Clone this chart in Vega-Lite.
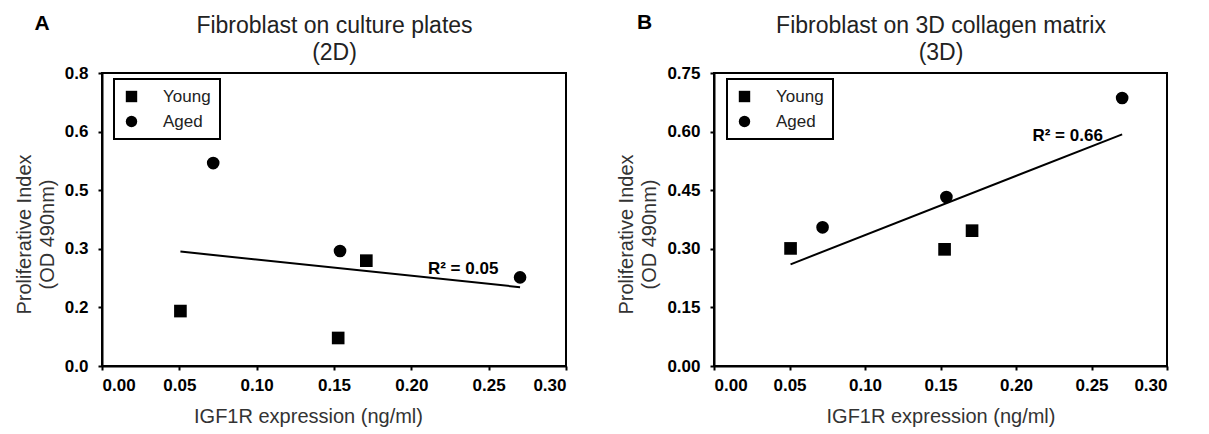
{
  "$schema": "https://vega.github.io/schema/vega-lite/v6.json",
  "background": "white",
  "padding": {"left": 13, "top": 11, "right": 5, "bottom": 2},
  "datasets": {
    "d2": [
      {"igf": 0.0507, "od": 0.150, "group": "Young"},
      {"igf": 0.1527, "od": 0.0765, "group": "Young"},
      {"igf": 0.1709, "od": 0.2876, "group": "Young"},
      {"igf": 0.0719, "od": 0.554, "group": "Aged"},
      {"igf": 0.1539, "od": 0.314, "group": "Aged"},
      {"igf": 0.2703, "od": 0.242, "group": "Aged"}
    ],
    "d3": [
      {"igf": 0.0507, "od": 0.301, "group": "Young"},
      {"igf": 0.1527, "od": 0.2986, "group": "Young"},
      {"igf": 0.1709, "od": 0.3464, "group": "Young"},
      {"igf": 0.0719, "od": 0.355, "group": "Aged"},
      {"igf": 0.1539, "od": 0.4326, "group": "Aged"},
      {"igf": 0.2703, "od": 0.686, "group": "Aged"}
    ],
    "notesA": [
      {"igf": 0.2335, "od": 0.266, "label": "R² = 0.05"}
    ],
    "notesB": [
      {"igf": 0.2342, "od": 0.590, "label": "R² = 0.66"}
    ],
    "panelA": [{"igf": -0.0388, "od": 0.935, "label": "A"}],
    "panelB": [{"igf": -0.046, "od": 0.877, "label": "B"}]
  },
  "hconcat": [
    {
      "width": 464,
      "height": 293,
      "layer": [
        {
          "data": {"name": "d2"},
          "mark": {"type": "point", "opacity": 0},
          "encoding": {
            "x": {"field": "igf", "type": "quantitative", "scale": {"domain": [0, 0.3], "nice": false},
              "axis": {"orient": "top", "labels": false, "ticks": false, "domain": false,
                "title": ["Fibroblast on culture plates", "(2D)"], "titleFontSize": 23, "titleLineHeight": 27,
                "titleColor": "#222222", "titlePadding": 9}}
          }
        },
        {
          "data": {"name": "d2"},
          "mark": {"type": "point", "filled": true, "opacity": 1, "size": 160, "color": "black", "strokeWidth": 0},
          "encoding": {
            "x": {"field": "igf", "type": "quantitative", "scale": {"domain": [0, 0.3], "nice": false},
              "axis": {"orient": "bottom", "values": [0, 0.05, 0.1, 0.15, 0.2, 0.25, 0.3], "format": ".2f", "title": "IGF1R expression (ng/ml)", "titleX": 206}},
            "y": {"field": "od", "type": "quantitative", "scale": {"domain": [0, 0.8], "nice": false},
              "axis": {"values": [0, 0.16, 0.32, 0.48, 0.64, 0.8], "format": ".1f", "title": ["Proliferative Index", "(OD 490nm)"], "titleY": 161}},
            "shape": {"field": "group", "type": "nominal", "scale": {"domain": ["Young", "Aged"], "range": ["square", "circle"]},
              "legend": {"title": null, "orient": "none", "legendX": 12, "legendY": 6, "labelExpr": "datum.label + '\u00a0\u00a0\u00a0'"}}
          }
        },
        {
          "data": {"name": "d2"},
          "transform": [{"regression": "od", "on": "igf"}],
          "mark": {"type": "line", "color": "black", "strokeWidth": 2},
          "encoding": {
            "x": {"field": "igf", "type": "quantitative", "axis": null},
            "y": {"field": "od", "type": "quantitative"}
          }
        },
        {
          "data": {"name": "notesA"},
          "mark": {"type": "text", "fontWeight": "bold", "fontSize": 17, "color": "black", "baseline": "middle"},
          "encoding": {
            "x": {"field": "igf", "type": "quantitative", "axis": null},
            "y": {"field": "od", "type": "quantitative"},
            "text": {"field": "label"}
          }
        },
        {
          "data": {"name": "panelA"},
          "mark": {"type": "text", "fontWeight": "bold", "fontSize": 21, "color": "black", "baseline": "middle", "clip": false},
          "encoding": {
            "x": {"field": "igf", "type": "quantitative", "axis": null},
            "y": {"field": "od", "type": "quantitative"},
            "text": {"field": "label"}
          }
        }
      ],
      "resolve": {"axis": {"x": "independent"}}
    },
    {
      "width": 453,
      "height": 293,
      "layer": [
        {
          "data": {"name": "d3"},
          "mark": {"type": "point", "opacity": 0},
          "encoding": {
            "x": {"field": "igf", "type": "quantitative", "scale": {"domain": [0, 0.3], "nice": false},
              "axis": {"orient": "top", "labels": false, "ticks": false, "domain": false,
                "title": ["Fibroblast on 3D collagen matrix", "(3D)"], "titleFontSize": 23, "titleLineHeight": 27,
                "titleColor": "#222222", "titlePadding": 9}}
          }
        },
        {
          "data": {"name": "d3"},
          "mark": {"type": "point", "filled": true, "opacity": 1, "size": 160, "color": "black", "strokeWidth": 0},
          "encoding": {
            "x": {"field": "igf", "type": "quantitative", "scale": {"domain": [0, 0.3], "nice": false},
              "axis": {"orient": "bottom", "values": [0, 0.05, 0.1, 0.15, 0.2, 0.25, 0.3], "format": ".2f", "title": "IGF1R expression (ng/ml)"}},
            "y": {"field": "od", "type": "quantitative", "scale": {"domain": [0, 0.75], "nice": false},
              "axis": {"values": [0, 0.15, 0.3, 0.45, 0.6, 0.75], "format": ".2f", "title": ["Proliferative Index", "(OD 490nm)"], "titleY": 161}},
            "shape": {"field": "group", "type": "nominal", "scale": {"domain": ["Young", "Aged"], "range": ["square", "circle"]},
              "legend": {"title": null, "orient": "none", "legendX": 13, "legendY": 6, "labelExpr": "datum.label + '\u00a0\u00a0\u00a0'"}}
          }
        },
        {
          "data": {"name": "d3"},
          "transform": [{"regression": "od", "on": "igf"}],
          "mark": {"type": "line", "color": "black", "strokeWidth": 2},
          "encoding": {
            "x": {"field": "igf", "type": "quantitative", "axis": null},
            "y": {"field": "od", "type": "quantitative"}
          }
        },
        {
          "data": {"name": "notesB"},
          "mark": {"type": "text", "fontWeight": "bold", "fontSize": 17, "color": "black", "baseline": "middle"},
          "encoding": {
            "x": {"field": "igf", "type": "quantitative", "axis": null},
            "y": {"field": "od", "type": "quantitative"},
            "text": {"field": "label"}
          }
        },
        {
          "data": {"name": "panelB"},
          "mark": {"type": "text", "fontWeight": "bold", "fontSize": 21, "color": "black", "baseline": "middle", "clip": false},
          "encoding": {
            "x": {"field": "igf", "type": "quantitative", "axis": null},
            "y": {"field": "od", "type": "quantitative"},
            "text": {"field": "label"}
          }
        }
      ],
      "resolve": {"axis": {"x": "independent"}}
    }
  ],
  "spacing": 47,
  "resolve": {"scale": {"x": "independent", "y": "independent", "shape": "independent"}, "legend": {"shape": "independent"}},
  "config": {
    "font": "Liberation Sans",
    "view": {"stroke": "black", "strokeWidth": 2},
    "axis": {
      "grid": false,
      "domainColor": "black",
      "domainWidth": 2,
      "tickColor": "black",
      "tickWidth": 2,
      "tickSize": 4,
      "labelFont": "Liberation Sans",
      "labelFontWeight": "bold",
      "labelFontSize": 17,
      "labelColor": "black",
      "titleFont": "Liberation Sans",
      "titleFontWeight": "normal",
      "titleFontSize": 20,
      "titleColor": "#333333"
    },
    "axisY": {"labelPadding": 10, "titlePadding": 7, "titleLineHeight": 23},
    "axisX": {"labelPadding": 7, "titlePadding": 13},
    "legend": {
      "strokeColor": "black",
      "strokeWidth": 2,
      "padding": 9,
      "rowPadding": 7,
      "labelFontSize": 17,
      "labelColor": "#222222",
      "labelOffset": 23,
      "symbolSize": 130,
      "symbolFillColor": "black",
      "symbolStrokeWidth": 0,
      "fillColor": "white"
    }
  }
}
